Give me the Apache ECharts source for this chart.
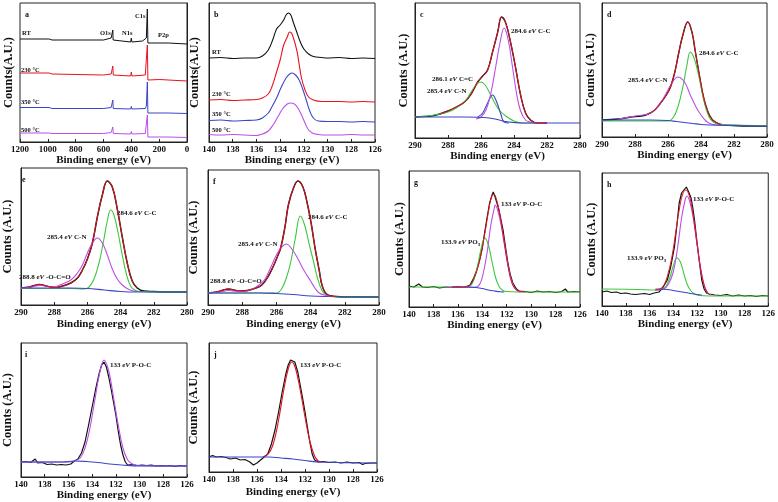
<!DOCTYPE html>
<html><head><meta charset="utf-8">
<script src="https://cdn.jsdelivr.net/npm/echarts@6/dist/echarts.min.js"></script>
<style>html,body{margin:0;padding:0;background:#fff}#c{width:778px;height:502px}</style>
</head><body><div id="c"></div>
<script>
// ---------- DATA (binding energy eV, intensity in arbitrary units) ----------
// Panel a: survey spectra
const a_RT  = [[1200,103],[990,103],[980,105],[970,102],[600,102],[545,104],[533,112],[531,102],[520,100],[405,100],[400,104],[396,100],[320,101],[292,104],[285,133],[282,133],[281,99],[195,99],[190,101],[186,98.5],[135,99],[132,101],[129,99],[0,98]];
const a_230 = [[1200,69],[990,69],[980,71],[970,68],[600,67],[545,68],[533,76],[530,67],[520,66],[405,66],[400,70],[396,66],[300,67],[292,69],[285,97],[282,97],[281,62],[195,62.5],[190,64],[186,62],[135,62],[132,64],[129,62],[0,61]];
const a_350 = [[1200,34.5],[990,34.5],[980,36],[970,33.5],[600,33.5],[545,34.5],[533,42],[530,33.5],[520,33],[405,33],[400,35.5],[396,33],[300,33.5],[292,36],[285,60],[282,60],[281,29],[195,29],[190,30.5],[186,29],[135,29],[132,30.5],[129,29],[0,28.5]];
const a_500 = [[1200,9],[990,9],[980,11],[970,8.5],[600,8.5],[545,9.5],[533,15],[530,8.5],[520,8],[405,8],[400,10.5],[396,8],[300,8.5],[292,10],[285,27],[282,27],[281,5],[195,5],[190,6.5],[186,5],[135,5],[132,6.5],[129,5],[0,4.5]];
// Panel b: P2p
const b_RT  = [[140,84],[139,84.5],[138,83.5],[137,84],[136,84],[135.5,86],[135,92],[134.6,103],[134.3,113],[134,117],[133.7,122],[133.5,127],[133.3,129],[133.1,127],[132.9,120],[132.6,110],[132.3,100],[132,93],[131.6,88],[131.2,85.5],[130.5,84.5],[130,84],[129,84.5],[128,83.5],[127,84],[126,83.5]];
const b_230 = [[140,42],[139,42.5],[138,41.5],[137,42],[136,42.5],[135.5,44],[135,48],[134.7,55],[134.3,70],[134,82],[133.7,97],[133.4,105],[133.2,110],[133,108],[132.6,92],[132.4,78],[132.2,64],[131.9,52],[131.6,45],[131.2,42],[130.5,40.5],[130,40.5],[129,40.5],[128,40],[127,40.5],[126,40]];
const b_350 = [[140,21.5],[139,22],[138,21],[137,21.5],[136,22],[135.5,24],[135,29],[134.7,35],[134.3,44],[133.9,55],[133.5,64],[133.2,68],[133,69],[132.7,67],[132.4,62],[132.1,53],[131.8,42],[131.5,31],[131.2,24],[130.8,21],[130,20.5],[129,20.5],[128,20],[127,20.5],[126,20]];
const b_500 = [[140,7.5],[139,7],[138,7.5],[137,7],[136,6.5],[135.5,8],[135,11],[134.6,17],[134.2,25],[133.8,33],[133.4,38],[133.1,39],[132.8,38],[132.5,34],[132.2,27],[131.9,19],[131.6,12],[131.2,8.5],[130.8,7.5],[130,7],[129,7],[128,7.5],[127,7],[126,7]];
// Panel c: C1s
const c_exp  = [[290,21],[289.5,21.5],[289,22],[288.5,24],[288,27],[287.5,31],[287,36],[286.6,44],[286.2,56],[285.9,62],[285.6,68],[285.3,86],[285,105],[284.75,121],[284.5,115],[284.2,95],[283.9,70],[283.6,43],[283.3,25],[283,18],[282.6,15],[282,15]];
const c_CC   = [[286.3,19],[286,21],[285.7,28],[285.4,45],[285.1,72],[284.85,95],[284.6,110],[284.35,98],[284.1,72],[283.85,45],[283.6,27],[283.3,18],[283,16],[282.6,15],[282,15]];
const c_CeqC = [[290,21],[289.5,21.5],[289,22.5],[288.5,24],[288,26],[287.5,30],[286.9,38],[286.6,46],[286.3,53],[286.05,56],[285.8,54],[285.5,46],[285.2,36],[284.9,28],[284.5,22],[284,17],[283.5,15],[283,15],[282,15]];
const c_CN   = [[286.2,21],[285.9,25],[285.6,35],[285.3,43],[285.05,36],[284.8,24],[284.6,16],[284.3,15]];
const c_bg   = [[290,21],[287,21],[286,20.5],[285.5,20],[285,18.5],[284.5,16.5],[284,15.5],[283.5,15],[280,15]];
// Panel d
const d_exp = [[290,17],[289,18],[288.25,20],[287.6,21],[287.2,23],[286.8,27],[286.45,34],[286.1,42],[285.85,50],[285.6,64],[285.35,84],[285.1,102],[284.8,115],[284.55,105],[284.35,86],[284.1,62],[283.85,40],[283.6,26],[283.3,17],[282.8,12.5],[282,11.5],[281,11],[280,11]];
const d_CC  = [[290,16],[287,16],[286,16],[285.7,19],[285.4,30],[285.1,50],[284.85,72],[284.65,85],[284.4,78],[284.15,62],[283.9,42],[283.65,26],[283.4,17],[283,13],[282,12],[280,11.5]];
const d_CN  = [[289,18],[288.5,19.5],[288,21],[287.5,22],[287.2,23],[286.8,27],[286.45,34],[286.1,44],[285.8,53],[285.4,60],[285,55],[284.65,42],[284.3,30],[284,22],[283.7,16],[283.4,13],[283,12],[282,11.5]];
const d_bg  = [[290,17],[287,17],[286,16.5],[285.5,15.5],[285,14.5],[284.5,13.5],[284,12.5],[283.5,12],[282.5,11.5],[280,11]];
// Panel e
const e_exp = [[290,17],[289.5,18],[289.2,19.5],[288.9,20.5],[288.6,19.5],[288.2,18],[287.9,17.5],[287.5,19],[287,22],[286.6,27],[286.3,35],[286,46],[285.7,62],[285.4,88],[285.1,110],[284.8,124],[284.5,118],[284.2,96],[283.9,68],[283.6,42],[283.3,24],[283,17],[282.6,14],[282,13.5],[281,13],[280,13]];
const e_CC  = [[290,16.5],[287,16.5],[286.2,16],[285.9,18],[285.6,26],[285.3,42],[285.05,62],[284.8,84],[284.6,95],[284.4,90],[284.15,72],[283.9,50],[283.65,31],[283.4,19],[283.1,14.5],[282.8,13.5],[280,13]];
const e_CN  = [[290,17],[289.5,17.5],[289.1,19],[288.8,19.5],[288.5,19],[288.1,18],[287.8,19],[287.5,21],[287,25],[286.6,32],[286.3,40],[286,52],[285.7,62],[285.4,67],[285.1,62],[284.8,50],[284.5,36],[284.2,26],[283.9,20],[283.5,15.5],[283,13.5]];
const e_bg  = [[290,17],[287,17],[286,16.5],[285,15],[284,13.5],[283,13],[280,13]];
// Panel f
const f_exp = [[290,12],[289.5,13],[289.1,15],[288.8,16],[288.5,15],[288.1,14],[287.7,14.5],[287.2,17],[286.85,20],[286.5,28],[286.2,38],[285.95,48],[285.75,57],[285.5,78],[285.3,100],[285,117],[284.74,124],[284.45,118],[284.2,102],[283.95,80],[283.75,58],[283.5,35],[283.3,18],[283,10],[282.5,8.5],[282,8],[281,8],[280,8]];
const f_CC  = [[290,12],[287,12],[286,12],[285.7,16],[285.4,28],[285.15,44],[284.9,66],[284.6,89],[284.35,80],[284.1,62],[283.85,45],[283.6,27],[283.35,15],[283.1,10],[282.8,8.5],[282,8],[280,8]];
const f_CN  = [[290,12],[289.5,12.5],[289,14],[288.8,14.5],[288.5,14],[288,13.5],[287.5,15],[287.1,19],[286.7,25],[286.4,35],[286,50],[285.7,58],[285.4,61],[285.1,56],[284.8,48],[284.5,38],[284.3,32],[284,24],[283.75,17],[283.5,12],[283.2,10],[282.8,8.5]];
const f_bg  = [[290,12],[287,12],[286,11.5],[285,10.5],[284,9],[283,8.5],[280,8]];
// Panel g: P2p
const g_exp = [[140,21],[139.6,20],[139.2,23],[138.9,20],[138.5,19.5],[138,20.5],[137.5,19],[137,20],[136.5,19.5],[136,20.5],[135.5,19.5],[135.2,21],[135,22],[134.7,29],[134.45,37],[134.2,48],[134,59],[133.8,75],[133.6,90],[133.4,104],[133.2,112],[133.1,115],[132.95,110],[132.7,100],[132.5,89],[132.3,77],[132.1,60],[131.9,44],[131.7,32],[131.5,24],[131.2,18],[131,16],[130.5,15.5],[130,14.5],[129.5,16],[129,15],[128.5,15.5],[128,14.5],[127.5,15.5],[127.2,18],[127,15],[126.5,15.5],[126,15]];
const g_fit = [[136.5,20],[135.5,20],[135,22],[134.7,28],[134.4,38],[134.1,53],[133.8,73],[133.5,95],[133.25,110],[133.05,113],[132.85,108],[132.6,95],[132.35,76],[132.1,56],[131.85,38],[131.6,25],[131.3,18],[131,16],[130.5,15]];
const g_POC = [[137,20],[135,19.5],[134.6,19.5],[134.2,23],[133.9,35],[133.6,55],[133.3,82],[133,100],[132.95,102],[132.7,95],[132.4,78],[132.15,60],[131.9,42],[131.65,28],[131.4,20],[131.1,16],[130.8,15]];
const g_PO3 = [[140,20],[137,20],[135.5,20],[135,21],[134.7,27],[134.4,40],[134.1,58],[133.8,69],[133.5,62],[133.2,45],[132.9,29],[132.6,20],[132.3,16.5],[132,15.5],[130,15],[126,15]];
const g_bg  = [[136.5,20],[135,20],[134.5,19.5],[134,18.5],[133.5,17],[133,16],[132.5,15.2],[132.2,15]];
// Panel h
const h_exp = [[140,14],[139.6,15],[139.2,13.5],[138.8,14],[138.4,12.5],[138,13],[137.6,12],[137.2,11.5],[136.8,12],[136.4,12.5],[136,11.5],[135.6,13],[135.2,14],[134.9,18],[134.5,26],[134.2,40],[133.9,59],[133.7,80],[133.5,103],[133.3,113],[133.1,116],[132.9,119],[132.7,114],[132.5,108],[132.35,98],[132.2,85],[132,64],[131.8,44],[131.6,26],[131.4,17],[131.2,13],[131,12],[130.5,11],[130,10.5],[129.5,11.5],[129,10],[128.5,11],[128,10],[127.5,10.5],[127,9.5],[126.5,10.5],[126,10]];
const h_fit = [[135.5,16],[135,18],[134.7,23],[134.4,34],[134.1,50],[133.8,73],[133.5,96],[133.2,112],[132.95,116],[132.7,112],[132.45,100],[132.2,80],[131.95,58],[131.7,38],[131.45,23],[131.2,15],[130.9,11]];
const h_POC = [[135.5,16],[134.8,17],[134.4,22],[134,34],[133.65,57],[133.3,88],[133,106],[132.85,110],[132.6,104],[132.3,87],[132,62],[131.7,38],[131.4,21],[131.1,13],[130.8,11]];
const h_PO3 = [[140,17],[137,16.5],[135.5,16],[135,16.5],[134.6,20],[134.3,28],[134,40],[133.7,48],[133.4,44],[133.1,32],[132.8,21],[132.5,15],[132.2,12],[131.8,10.5],[130,10],[126,10]];
const h_bg  = [[135.5,17],[134.5,16.5],[134,15.5],[133,13.5],[132,11.5],[131.6,11]];
// Panel i
const i_exp = [[140,15],[139.6,15.5],[139.2,14.5],[138.8,18],[138.6,14],[138.2,14.5],[137.8,12.5],[137.4,13],[137,12],[136.6,12.5],[136.2,12],[135.8,13],[135.5,16],[135.2,18],[134.9,24],[134.6,35],[134.3,52],[134,70],[133.7,88],[133.4,104],[133.2,112],[133,115],[132.8,110],[132.6,100],[132.4,88],[132.2,75],[132,62],[131.8,46],[131.6,32],[131.4,22],[131.2,15],[131,12],[130.6,12.5],[130.2,11.5],[129.8,12],[129.4,11.5],[129,12],[128.6,11],[128.2,11.5],[127.8,11],[127.4,11.5],[127,10.5],[126.6,11.5],[126.2,11],[126,11]];
const i_POC = [[140,15],[136,15],[135.5,16],[135,19],[134.6,29],[134.2,48],[133.8,75],[133.4,102],[133,117],[132.6,106],[132.2,80],[131.8,52],[131.4,29],[131,17],[130.6,13],[130.2,11.5],[126,11]];
const i_bg  = [[140,15],[136.5,15],[135.5,16],[134.5,15.5],[133.5,14.5],[132.5,13],[131.5,12],[130,11],[126,11]];
// Panel j
const j_exp = [[140,15],[139.7,16.5],[139.4,15],[139,15.5],[138.6,14.5],[138.2,13],[137.8,14],[137.4,12],[137,12.5],[136.6,10],[136.3,7],[136,9],[135.7,12],[135.4,15],[135.1,18],[134.8,28],[134.5,42],[134.2,60],[133.9,80],[133.6,98],[133.4,107],[133.2,112],[133.05,114],[132.85,110],[132.6,100],[132.4,87],[132.2,74],[132,60],[131.8,45],[131.6,30],[131.4,18],[131.2,12],[130.9,10],[130.5,10.5],[130,9.5],[129.5,10],[129,9],[128.5,10],[128,9],[127.5,9.5],[127.2,7.5],[127,8.5],[126.5,9],[126,9]];
const j_fit = [[135.5,15],[135,19],[134.6,30],[134.2,52],[133.8,80],[133.4,103],[133.1,110],[132.8,104],[132.4,82],[132,55],[131.6,31],[131.2,16],[130.9,11],[130.6,10]];
const j_bg  = [[140,15],[135,15],[134,14],[133,13],[132,11.5],[131,10],[126,9]];

// ---------- LAYOUT ----------
const SERIF = 'Liberation Serif';
const BLACK='#111', RED='#e8121f', BLUE='#3b45c8', PURPLE='#bb4fe8', GREEN='#3cc83c';
const panels = [
  {L:'a', left:20,  top:3,   w:167, h:139, xmin:0,   xmax:1200, xi:200, yname:'Counts(A.U.)',  ng:5, tg:11},
  {L:'b', left:209, top:3,   w:166, h:139, xmin:126, xmax:140,  xi:2,   yname:'Counts(A.U.)',  ng:8, tg:11},
  {L:'c', left:415, top:3,   w:165, h:135, xmin:280, xmax:290,  xi:2,   yname:'Counts (A.U.)', ng:5, tg:12},
  {L:'d', left:602, top:3,   w:165, h:134, xmin:280, xmax:290,  xi:2,   yname:'Counts (A.U.)', ng:5, tg:12},
  {L:'e', left:17,  top:168, w:170, h:137, xmin:280, xmax:290,  xi:2,   yname:'Counts (A.U.)', ng:7, tg:14},
  {L:'f', left:208, top:170, w:171, h:135, xmin:280, xmax:290,  xi:2,   yname:'Counts (A.U.)', ng:8, tg:14},
  {L:'g', left:409, top:171, w:171, h:136, xmin:126, xmax:140,  xi:2,   yname:'Counts (A.U.)', ng:3, tg:13},
  {L:'h', left:602, top:173, w:168, h:133, xmin:126, xmax:140,  xi:2,   yname:'Counts (A.U.)', ng:4, tg:12},
  {L:'i', left:20,  top:343, w:167, h:134, xmin:126, xmax:140,  xi:2,   yname:'Counts (A.U.)', ng:7, tg:11},
  {L:'j', left:209, top:343, w:168, h:129, xmin:126, xmax:140,  xi:2,   yname:'Counts (A.U.)', ng:9, tg:15}
];
const grid=[], xAxis=[], yAxis=[], series=[], graphic=[];
panels.forEach((p,k)=>{
  grid.push({left:p.left, top:p.top, width:p.w, height:p.h, show:true, borderColor:'#222', borderWidth:1, backgroundColor:'transparent'});
  xAxis.push({gridIndex:k, type:'value', min:p.xmin, max:p.xmax, interval:p.xi, inverse:true,
    axisLine:{show:true, lineStyle:{color:'#222', width:1}},
    axisTick:{show:true, inside:true, length:3, lineStyle:{color:'#222'}},
    splitLine:{show:false},
    axisLabel:{color:'#111', fontFamily:SERIF, fontWeight:'bold', fontSize:9, margin:3, formatter:(v)=>String(v)},
    name:'Binding energy (eV)', nameLocation:'middle', nameGap:p.tg,
    nameTextStyle:{color:'#111', fontFamily:SERIF, fontWeight:'bold', fontSize:11}});
  yAxis.push({gridIndex:k, type:'value', min:0, max:p.h,
    axisLine:{show:true, lineStyle:{color:'#222'}}, axisTick:{show:false}, axisLabel:{show:false}, splitLine:{show:false},
    name:p.yname, nameLocation:'middle', nameGap:p.ng,
    nameTextStyle:{color:'#111', fontFamily:SERIF, fontWeight:'bold', fontSize:12.5}});
  graphic.push({type:'text', x:p.left+5, y:p.top+12, style:{text:p.L, font:'bold 8px '+SERIF, fill:'#111', verticalAlign:'middle'}});
});
function ln(k, data, color, width, smooth, z){
  series.push({type:'line', xAxisIndex:k, yAxisIndex:k, data:data, symbol:'none', smooth:smooth,
    lineStyle:{color:color, width:width}, z:z||2, animation:false, silent:true});
}
// a
ln(0,a_RT,BLACK,1,false); ln(0,a_230,RED,1,false); ln(0,a_350,BLUE,1,false); ln(0,a_500,PURPLE,1,false);
// b
ln(1,b_RT,BLACK,1.1,0.4); ln(1,b_230,RED,1.1,0.4); ln(1,b_350,BLUE,1.1,0.4); ln(1,b_500,PURPLE,1.1,0.4);
// c
ln(2,c_exp,BLACK,1.4,0.4,2); ln(2,c_CeqC,GREEN,1.1,0.4,3); ln(2,c_CN,BLUE,1.1,0.4,3); ln(2,c_CC,PURPLE,1.1,0.4,3); ln(2,c_exp.slice(3),RED,1,0.4,4); ln(2,c_bg,BLUE,1.1,0.4,3);
// d
ln(3,d_exp,BLACK,1.4,0.4,2); ln(3,d_CC,GREEN,1.1,0.4,3); ln(3,d_CN,PURPLE,1.1,0.4,3); ln(3,d_bg,BLUE,1.1,0.4,3); ln(3,d_exp.slice(4,20),RED,1,0.4,4);
// e
ln(4,e_exp,BLACK,1.5,0.4,2); ln(4,e_CC,GREEN,1.1,0.4,3); ln(4,e_CN,PURPLE,1.1,0.4,3); ln(4,e_bg,BLUE,1.1,0.4,3); ln(4,e_exp.slice(1,22),RED,1,0.4,4);
// f
ln(5,f_exp,BLACK,1.5,0.4,2); ln(5,f_CC,GREEN,1.1,0.4,3); ln(5,f_CN,PURPLE,1.1,0.4,3); ln(5,f_bg,BLUE,1.1,0.4,3); ln(5,f_exp.slice(1,25),RED,1,0.4,4);
// g
ln(6,g_exp,BLACK,1.2,false,2); ln(6,g_PO3,GREEN,1.1,0.4,3); ln(6,g_POC,PURPLE,1.1,0.4,3); ln(6,g_bg,BLUE,1.1,0.4,3); ln(6,g_fit,RED,1,0.4,4);
// h
ln(7,h_exp,BLACK,1.2,false,2); ln(7,h_PO3,GREEN,1.1,0.4,3); ln(7,h_POC,PURPLE,1.1,0.4,3); ln(7,h_bg,BLUE,1.1,0.4,3); ln(7,h_fit,RED,1,0.4,4);
// i
ln(8,i_exp,BLACK,1.2,false,2); ln(8,i_POC,PURPLE,1.1,0.4,3); ln(8,i_bg,BLUE,1.1,0.4,3);
// j
ln(9,j_exp,BLACK,1.2,false,2); ln(9,j_fit,RED,1.1,0.4,3); ln(9,j_bg,BLUE,1.1,0.4,3);

// ---------- ANNOTATIONS ----------
const rich = {n:{font:'bold 7px '+SERIF, fill:'#111'}, i:{font:'italic bold 7px '+SERIF, fill:'#111'}, s:{font:'bold 5px '+SERIF, fill:'#111', padding:[5,0,0,0]}};
function t(x,y,txt,size){ graphic.push({type:'text', x:x, y:y, style:{text:txt, font:'bold '+(size||6.5)+'px '+SERIF, fill:'#111', verticalAlign:'middle'}}); }
function tr(x,y,txt){ graphic.push({type:'text', x:x, y:y, style:{text:txt, rich:rich, verticalAlign:'middle'}}); }
t(22,33,'RT'); t(100,33,'O1s'); t(122,33,'N1s'); t(135,16,'C1s'); t(158,35,'P2p');
t(21,70,'230 °C'); t(21,102,'350 °C'); t(21,130,'500 °C');
t(212,52,'RT'); t(212,94,'230 °C'); t(212,114,'350 °C'); t(212,130,'500 °C');
tr(511,31,'{n|284.6 }{i|eV}{n| C-C}'); tr(432,79,'{n|286.1 }{i|eV}{n| C=C}'); tr(427,91,'{n|285.4 }{i|eV}{n| C-N}');
tr(699,53,'{n|284.6 }{i|eV}{n| C-C}'); tr(628,80,'{n|285.4 }{i|eV}{n| C-N}');
tr(117,213,'{n|284.6 }{i|eV}{n| C-C}'); tr(47,237,'{n|285.4 }{i|eV}{n| C-N}'); tr(19,277,'{n|288.8 }{i|eV}{n| -O-C=O}');
tr(308,217,'{n|284.6 }{i|eV}{n| C-C}'); tr(238,244,'{n|285.4 }{i|eV}{n| C-N}'); tr(210,281,'{n|288.8 }{i|eV}{n| -O-C=O}');
tr(501,204,'{n|133 }{i|eV}{n| P-O-C}'); tr(441,242,'{n|133.9 }{i|eV}{n| PO}{s|3}');
tr(693,199,'{n|133 }{i|eV}{n| P-O-C}'); tr(627,258,'{n|133.9 }{i|eV}{n| PO}{s|3}');
tr(110,365,'{n|133 }{i|eV}{n| P-O-C}');
tr(300,365,'{n|133 }{i|eV}{n| P-O-C}');

const chart = echarts.init(document.getElementById('c'), null, {renderer:'canvas'});
chart.setOption({animation:false, backgroundColor:'#fff', grid, xAxis, yAxis, series, graphic});
</script></body></html>
